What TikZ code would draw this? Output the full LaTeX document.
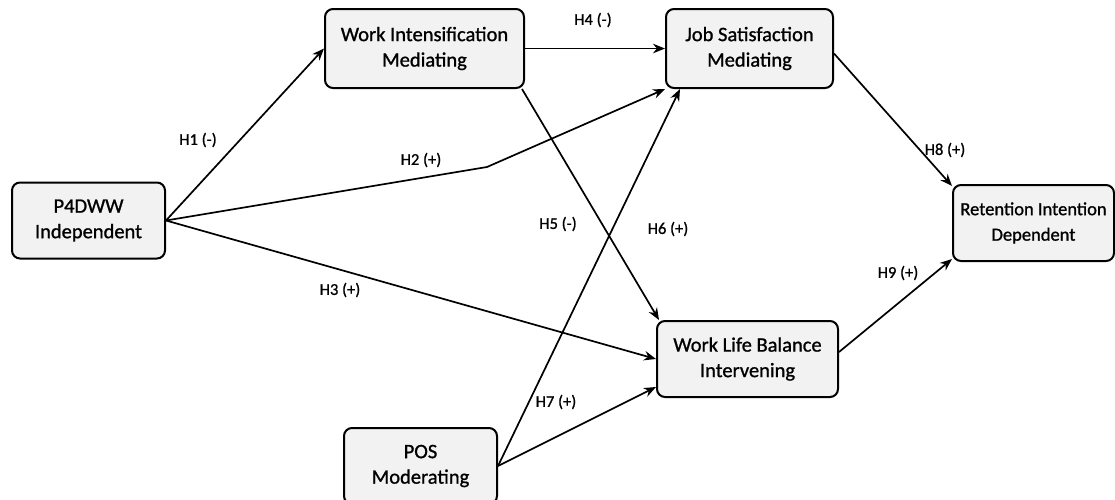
\documentclass[tikz,border=0pt]{standalone}
\usepackage{fontspec}
\setmainfont[FakeBold=1,AutoFakeBold=1]{Carlito}
\usetikzlibrary{arrows.meta}
\begin{document}
\begin{tikzpicture}[x=1pt,y=-1pt,
  box/.style={draw=black, line width=2pt, rounded corners=8pt, fill=black!5,
    align=center, font=\bfseries\fontsize{20.5}{25.5}\selectfont, inner sep=0pt},
  conn/.style={line width=1.7pt, -{Stealth[length=12pt,width=9.5pt]}},
  lbl/.style={font=\bfseries\fontsize{16.5}{19}\selectfont, inner sep=1pt}]
\useasboundingbox (0,0) rectangle (1115,499);
\node[box, minimum width=153pt, minimum height=76pt] (p4) at (88.5,220.5) {P4DWW\\Independent};
\node[box, minimum width=199pt, minimum height=79pt] (wi) at (424.5,48.5) {Work Intensification\\Mediating};
\node[box, minimum width=167pt, minimum height=79pt] (js) at (749.5,48.5) {Job Satisfaction\\Mediating};
\node[box, minimum width=161pt, minimum height=76pt, font=\bfseries\fontsize{18.5}{25.5}\selectfont] (ret) at (1033.5,223) {Retention Intention\\Dependent};
\node[box, minimum width=181pt, minimum height=76pt] (wlb) at (747.5,359) {Work Life Balance\\Intervening};
\node[box, minimum width=153pt, minimum height=76pt] (pos) at (420.5,466) {POS\\Moderating};
\coordinate (bend) at (487,167);
\draw[conn] (p4.east) -- (wi.west);
\draw[conn] (p4.east) -- (bend) -- (js.south west);
\draw[conn] (p4.east) -- (wlb.west);
\draw[conn] (wi.east) -- (js.west);
\draw[conn] ([xshift=-3pt]wi.south east) -- ([xshift=3pt]wlb.north west);
\draw[conn] (pos.east) -- ([xshift=15pt]js.south west);
\draw[conn] (pos.east) -- ([yshift=-28pt]wlb.west);
\draw[conn] ([yshift=-5pt]js.east) -- ([yshift=-2pt]ret.north west);
\draw[conn] ([yshift=7pt]wlb.east) -- ([yshift=3pt]ret.south west);
\node[lbl] (l1) at (198,140) {H1 (-)};
\node[lbl] (l2) at (421,160) {H2 (+)};
\node[lbl] (l3) at (340,290) {H3 (+)};
\node[lbl] (l4) at (593,20) {H4 (-)};
\node[lbl] (l5) at (558,224) {H5 (-)};
\node[lbl] (l6) at (668,229) {H6 (+)};
\node[lbl] (l7) at (556,402) {H7 (+)};
\node[lbl] (l8) at (945,150) {H8 (+)};
\node[lbl] (l9) at (898,273) {H9 (+)};
\end{tikzpicture}
\end{document}
